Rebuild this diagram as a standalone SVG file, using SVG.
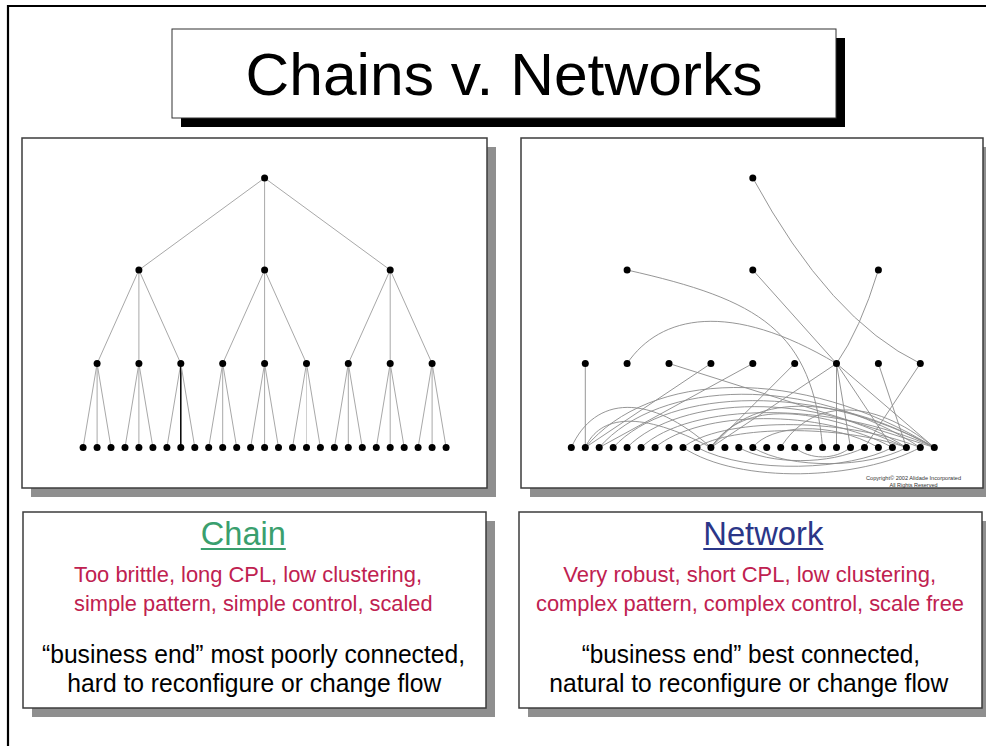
<svg xmlns="http://www.w3.org/2000/svg" width="986" height="746" viewBox="0 0 986 746">
<style>
.t{font-family:"Liberation Sans",Arial,sans-serif}
.tree{stroke:#a8a8a8;stroke-width:1;fill:none}
.net{stroke:#8a8a8a;stroke-width:0.9;fill:none}
.dot{fill:#000}
.dot circle{r:3.5px}
.panel{fill:#fff;stroke:#3c3c3c;stroke-width:1.5}
.shadow{fill:#8f8f8f}
.red{fill:#bf2150;font-size:21.7px}
.blk{fill:#000;font-size:25.5px}
</style>
<rect width="986" height="746" fill="#fff"/>
<path d="M8,746 V6 H986" fill="none" stroke="#000" stroke-width="2.2"/>

<g id="title">
<rect x="181" y="38" width="664" height="89" fill="#000"/>
<rect x="172" y="29" width="664" height="89" fill="#fff" stroke="#333" stroke-width="1"/>
<text class="t" x="504" y="95" font-size="60" text-anchor="middle" textLength="517" lengthAdjust="spacingAndGlyphs">Chains v. Networks</text>
</g>

<g id="chain-panel">
<rect class="shadow" x="31" y="147" width="465" height="350"/>
<rect class="panel" x="22" y="138" width="465" height="350"/>
</g>
<g id="network-panel">
<rect class="shadow" x="530" y="147" width="462" height="350"/>
<rect class="panel" x="521" y="138" width="462" height="350"/>
<text class="t" x="913.5" y="480" font-size="5.6" fill="#333" text-anchor="middle" textLength="95" lengthAdjust="spacingAndGlyphs">Copyright© 2002 Alidade Incorporated</text>
<text class="t" x="913.5" y="486.5" font-size="5.6" fill="#333" text-anchor="middle" textLength="48" lengthAdjust="spacingAndGlyphs">All Rights Reserved</text>
</g>

<g id="connectors">
<g id="chain-edges" class="tree">
<line x1="264.6" y1="178" x2="138.9" y2="270"/>
<line x1="264.6" y1="178" x2="264.6" y2="270"/>
<line x1="264.6" y1="178" x2="390.2" y2="270"/>
<line x1="138.9" y1="270" x2="97.1" y2="363.5"/>
<line x1="138.9" y1="270" x2="138.9" y2="363.5"/>
<line x1="138.9" y1="270" x2="180.8" y2="363.5"/>
<line x1="264.6" y1="270" x2="222.7" y2="363.5"/>
<line x1="264.6" y1="270" x2="264.6" y2="363.5"/>
<line x1="264.6" y1="270" x2="306.5" y2="363.5"/>
<line x1="390.2" y1="270" x2="348.3" y2="363.5"/>
<line x1="390.2" y1="270" x2="390.2" y2="363.5"/>
<line x1="390.2" y1="270" x2="432.1" y2="363.5"/>
<line x1="97.1" y1="363.5" x2="83.1" y2="447.5"/>
<line x1="97.1" y1="363.5" x2="97.1" y2="447.5"/>
<line x1="97.1" y1="363.5" x2="111.0" y2="447.5"/>
<line x1="138.9" y1="363.5" x2="125.0" y2="447.5"/>
<line x1="138.9" y1="363.5" x2="138.9" y2="447.5"/>
<line x1="138.9" y1="363.5" x2="152.9" y2="447.5"/>
<line x1="180.8" y1="363.5" x2="166.9" y2="447.5"/>
<line x1="180.8" y1="363.5" x2="180.8" y2="447.5" stroke="#000" stroke-width="1.5"/>
<line x1="180.8" y1="363.5" x2="194.8" y2="447.5"/>
<line x1="222.7" y1="363.5" x2="208.7" y2="447.5"/>
<line x1="222.7" y1="363.5" x2="222.7" y2="447.5"/>
<line x1="222.7" y1="363.5" x2="236.7" y2="447.5"/>
<line x1="264.6" y1="363.5" x2="250.6" y2="447.5"/>
<line x1="264.6" y1="363.5" x2="264.6" y2="447.5"/>
<line x1="264.6" y1="363.5" x2="278.5" y2="447.5"/>
<line x1="306.5" y1="363.5" x2="292.5" y2="447.5"/>
<line x1="306.5" y1="363.5" x2="306.5" y2="447.5" stroke="#d0d0d0"/>
<line x1="306.5" y1="363.5" x2="320.4" y2="447.5"/>
<line x1="348.3" y1="363.5" x2="334.4" y2="447.5"/>
<line x1="348.3" y1="363.5" x2="348.3" y2="447.5"/>
<line x1="348.3" y1="363.5" x2="362.3" y2="447.5"/>
<line x1="390.2" y1="363.5" x2="376.3" y2="447.5"/>
<line x1="390.2" y1="363.5" x2="390.2" y2="447.5"/>
<line x1="390.2" y1="363.5" x2="404.2" y2="447.5"/>
<line x1="432.1" y1="363.5" x2="418.1" y2="447.5"/>
<line x1="432.1" y1="363.5" x2="432.1" y2="447.5"/>
<line x1="432.1" y1="363.5" x2="446.1" y2="447.5"/>
</g>
<g id="network-edges" class="net">
<path d="M752.8,178 Q830,320 920.3,363.5"/>
<path d="M627.1,270 C760,300 812,330 822.6,447.5"/>
<path d="M752.8,270 L836.5,363.5"/>
<path d="M878.4,270 Q860,330 836.5,363.5"/>
<path d="M627.1,363.5 C660,315 730,300 836.5,363.5"/>
<path d="M585.3,363.5 L585.3,447.5"/>
<path d="M669,363.5 L934.3,447.5"/>
<path d="M710.9,363.5 L585.3,447.5"/>
<path d="M752.8,363.5 L599.2,447.5"/>
<path d="M794.7,363.5 L710.9,447.5"/>
<path d="M836.5,363.5 L710.9,447.5"/>
<path d="M836.5,363.5 L836.5,447.5"/>
<path d="M836.5,363.5 L850.5,447.5"/>
<path d="M836.5,363.5 L892.4,447.5"/>
<path d="M836.5,363.5 L934.3,447.5"/>
<path d="M878.4,363.5 L906.4,447.5"/>
<path d="M920.3,363.5 L864.5,447.5"/>
<path d="M585.3,447.5 C650,370 800,365 934.3,447.5"/>
<path d="M599.2,447.5 C660,378 810,375 920.3,447.5"/>
<path d="M613.2,447.5 C670,386 820,384 934.3,447.5"/>
<path d="M627.1,447.5 C680,394 820,392 906.4,447.5"/>
<path d="M641.1,447.5 C690,402 830,400 934.3,447.5"/>
<path d="M655.1,447.5 C700,410 820,408 892.4,447.5"/>
<path d="M683,447.5 C720,418 840,416 920.3,447.5"/>
<path d="M697,447.5 C730,426 840,424 906.4,447.5"/>
<path d="M571.3,447.5 C595,395 650,393 710.9,447.5"/>
<path d="M585.3,447.5 C600,415 640,410 710.9,447.5"/>
<path d="M710.9,447.5 C740,405 800,400 906.4,447.5"/>
<path d="M710.9,447.5 C750,395 830,390 934.3,447.5"/>
<path d="M780.7,447.5 C810,400 870,395 934.3,447.5"/>
<path d="M752.8,447.5 C770,425 830,420 878.4,447.5"/>
<path d="M683,447.5 C740,485 860,480 920.3,447.5"/>
<path d="M697,447.5 C750,475 850,470 892.4,447.5"/>
<path d="M738.8,447.5 C770,465 830,465 864.5,447.5"/>
<path d="M752.8,447.5 C790,470 870,468 906.4,447.5"/>
<path d="M794.7,447.5 C810,460 835,460 850.5,447.5"/>
</g>
</g>

<g id="chain-nodes" class="dot">
<g id="c-root"><circle cx="264.6" cy="178" r="3.5"/></g>
<g id="c-m0"><circle cx="138.9" cy="270" r="3.5"/></g>
<g id="c-m1"><circle cx="264.6" cy="270" r="3.5"/></g>
<g id="c-m2"><circle cx="390.2" cy="270" r="3.5"/></g>
<g id="c-s0"><circle cx="97.1" cy="363.5" r="3.5"/></g>
<g id="c-s1"><circle cx="138.9" cy="363.5" r="3.5"/></g>
<g id="c-s2"><circle cx="180.8" cy="363.5" r="3.5"/></g>
<g id="c-s3"><circle cx="222.7" cy="363.5" r="3.5"/></g>
<g id="c-s4"><circle cx="264.6" cy="363.5" r="3.5"/></g>
<g id="c-s5"><circle cx="306.5" cy="363.5" r="3.5"/></g>
<g id="c-s6"><circle cx="348.3" cy="363.5" r="3.5"/></g>
<g id="c-s7"><circle cx="390.2" cy="363.5" r="3.5"/></g>
<g id="c-s8"><circle cx="432.1" cy="363.5" r="3.5"/></g>
<g id="c-l0"><circle cx="83.1" cy="447.5" r="3.5"/></g>
<g id="c-l1"><circle cx="97.1" cy="447.5" r="3.5"/></g>
<g id="c-l2"><circle cx="111.0" cy="447.5" r="3.5"/></g>
<g id="c-l3"><circle cx="125.0" cy="447.5" r="3.5"/></g>
<g id="c-l4"><circle cx="138.9" cy="447.5" r="3.5"/></g>
<g id="c-l5"><circle cx="152.9" cy="447.5" r="3.5"/></g>
<g id="c-l6"><circle cx="166.9" cy="447.5" r="3.5"/></g>
<g id="c-l7"><circle cx="180.8" cy="447.5" r="3.5"/></g>
<g id="c-l8"><circle cx="194.8" cy="447.5" r="3.5"/></g>
<g id="c-l9"><circle cx="208.7" cy="447.5" r="3.5"/></g>
<g id="c-l10"><circle cx="222.7" cy="447.5" r="3.5"/></g>
<g id="c-l11"><circle cx="236.7" cy="447.5" r="3.5"/></g>
<g id="c-l12"><circle cx="250.6" cy="447.5" r="3.5"/></g>
<g id="c-l13"><circle cx="264.6" cy="447.5" r="3.5"/></g>
<g id="c-l14"><circle cx="278.5" cy="447.5" r="3.5"/></g>
<g id="c-l15"><circle cx="292.5" cy="447.5" r="3.5"/></g>
<g id="c-l16"><circle cx="306.5" cy="447.5" r="3.5"/></g>
<g id="c-l17"><circle cx="320.4" cy="447.5" r="3.5"/></g>
<g id="c-l18"><circle cx="334.4" cy="447.5" r="3.5"/></g>
<g id="c-l19"><circle cx="348.3" cy="447.5" r="3.5"/></g>
<g id="c-l20"><circle cx="362.3" cy="447.5" r="3.5"/></g>
<g id="c-l21"><circle cx="376.3" cy="447.5" r="3.5"/></g>
<g id="c-l22"><circle cx="390.2" cy="447.5" r="3.5"/></g>
<g id="c-l23"><circle cx="404.2" cy="447.5" r="3.5"/></g>
<g id="c-l24"><circle cx="418.1" cy="447.5" r="3.5"/></g>
<g id="c-l25"><circle cx="432.1" cy="447.5" r="3.5"/></g>
<g id="c-l26"><circle cx="446.1" cy="447.5" r="3.5"/></g>
</g>

<g id="network-nodes" class="dot">
<g id="n-root"><circle cx="752.8" cy="178" r="3.5"/></g>
<g id="n-m0"><circle cx="627.1" cy="270" r="3.5"/></g>
<g id="n-m1"><circle cx="752.8" cy="270" r="3.5"/></g>
<g id="n-m2"><circle cx="878.4" cy="270" r="3.5"/></g>
<g id="n-s0"><circle cx="585.3" cy="363.5" r="3.5"/></g>
<g id="n-s1"><circle cx="627.1" cy="363.5" r="3.5"/></g>
<g id="n-s2"><circle cx="669.0" cy="363.5" r="3.5"/></g>
<g id="n-s3"><circle cx="710.9" cy="363.5" r="3.5"/></g>
<g id="n-s4"><circle cx="752.8" cy="363.5" r="3.5"/></g>
<g id="n-s5"><circle cx="794.7" cy="363.5" r="3.5"/></g>
<g id="n-s6"><circle cx="836.5" cy="363.5" r="3.5"/></g>
<g id="n-s7"><circle cx="878.4" cy="363.5" r="3.5"/></g>
<g id="n-s8"><circle cx="920.3" cy="363.5" r="3.5"/></g>
<g id="n-l0"><circle cx="571.3" cy="447.5" r="3.5"/></g>
<g id="n-l1"><circle cx="585.3" cy="447.5" r="3.5"/></g>
<g id="n-l2"><circle cx="599.2" cy="447.5" r="3.5"/></g>
<g id="n-l3"><circle cx="613.2" cy="447.5" r="3.5"/></g>
<g id="n-l4"><circle cx="627.1" cy="447.5" r="3.5"/></g>
<g id="n-l5"><circle cx="641.1" cy="447.5" r="3.5"/></g>
<g id="n-l6"><circle cx="655.1" cy="447.5" r="3.5"/></g>
<g id="n-l7"><circle cx="669.0" cy="447.5" r="3.5"/></g>
<g id="n-l8"><circle cx="683.0" cy="447.5" r="3.5"/></g>
<g id="n-l9"><circle cx="697.0" cy="447.5" r="3.5"/></g>
<g id="n-l10"><circle cx="710.9" cy="447.5" r="3.5"/></g>
<g id="n-l11"><circle cx="724.9" cy="447.5" r="3.5"/></g>
<g id="n-l12"><circle cx="738.8" cy="447.5" r="3.5"/></g>
<g id="n-l13"><circle cx="752.8" cy="447.5" r="3.5"/></g>
<g id="n-l14"><circle cx="766.7" cy="447.5" r="3.5"/></g>
<g id="n-l15"><circle cx="780.7" cy="447.5" r="3.5"/></g>
<g id="n-l16"><circle cx="794.7" cy="447.5" r="3.5"/></g>
<g id="n-l17"><circle cx="808.6" cy="447.5" r="3.5"/></g>
<g id="n-l18"><circle cx="822.6" cy="447.5" r="3.5"/></g>
<g id="n-l19"><circle cx="836.5" cy="447.5" r="3.5"/></g>
<g id="n-l20"><circle cx="850.5" cy="447.5" r="3.5"/></g>
<g id="n-l21"><circle cx="864.5" cy="447.5" r="3.5"/></g>
<g id="n-l22"><circle cx="878.4" cy="447.5" r="3.5"/></g>
<g id="n-l23"><circle cx="892.4" cy="447.5" r="3.5"/></g>
<g id="n-l24"><circle cx="906.4" cy="447.5" r="3.5"/></g>
<g id="n-l25"><circle cx="920.3" cy="447.5" r="3.5"/></g>
<g id="n-l26"><circle cx="934.3" cy="447.5" r="3.5"/></g>
</g>

<g id="chain-box">
<rect class="shadow" x="32" y="521" width="463" height="196"/>
<rect class="panel" x="23" y="512" width="463" height="196"/>
<text class="t" x="243.3" y="545" font-size="32.5" fill="#3a9f6e" text-anchor="middle" textLength="85" lengthAdjust="spacingAndGlyphs">Chain</text>
<line x1="200.8" y1="549" x2="285.8" y2="549" stroke="#3a9f6e" stroke-width="2"/>
<text class="t red" x="74" y="582" textLength="348" lengthAdjust="spacingAndGlyphs">Too brittle, long CPL, low clustering,</text>
<text class="t red" x="74" y="611" textLength="358.5" lengthAdjust="spacingAndGlyphs">simple pattern, simple control, scaled</text>
<text class="t blk" x="42" y="663" textLength="423" lengthAdjust="spacingAndGlyphs">“business end” most poorly connected,</text>
<text class="t blk" x="67.3" y="692" textLength="374" lengthAdjust="spacingAndGlyphs">hard to reconfigure or change flow</text>
</g>

<g id="network-box">
<rect class="shadow" x="528" y="521" width="463" height="196"/>
<rect class="panel" x="519" y="512" width="463" height="196"/>
<text class="t" x="763.3" y="545" font-size="32.5" fill="#2b3688" text-anchor="middle" textLength="120" lengthAdjust="spacingAndGlyphs">Network</text>
<line x1="703.3" y1="549" x2="823.3" y2="549" stroke="#2b3688" stroke-width="2"/>
<text class="t red" x="563.3" y="582" textLength="372.7" lengthAdjust="spacingAndGlyphs">Very robust, short CPL, low clustering,</text>
<text class="t red" x="536" y="611" textLength="428" lengthAdjust="spacingAndGlyphs">complex pattern, complex control, scale free</text>
<text class="t blk" x="581.7" y="663" textLength="338.3" lengthAdjust="spacingAndGlyphs">“business end” best connected,</text>
<text class="t blk" x="549.3" y="692" textLength="399" lengthAdjust="spacingAndGlyphs">natural to reconfigure or change flow</text>
</g>
</svg>
